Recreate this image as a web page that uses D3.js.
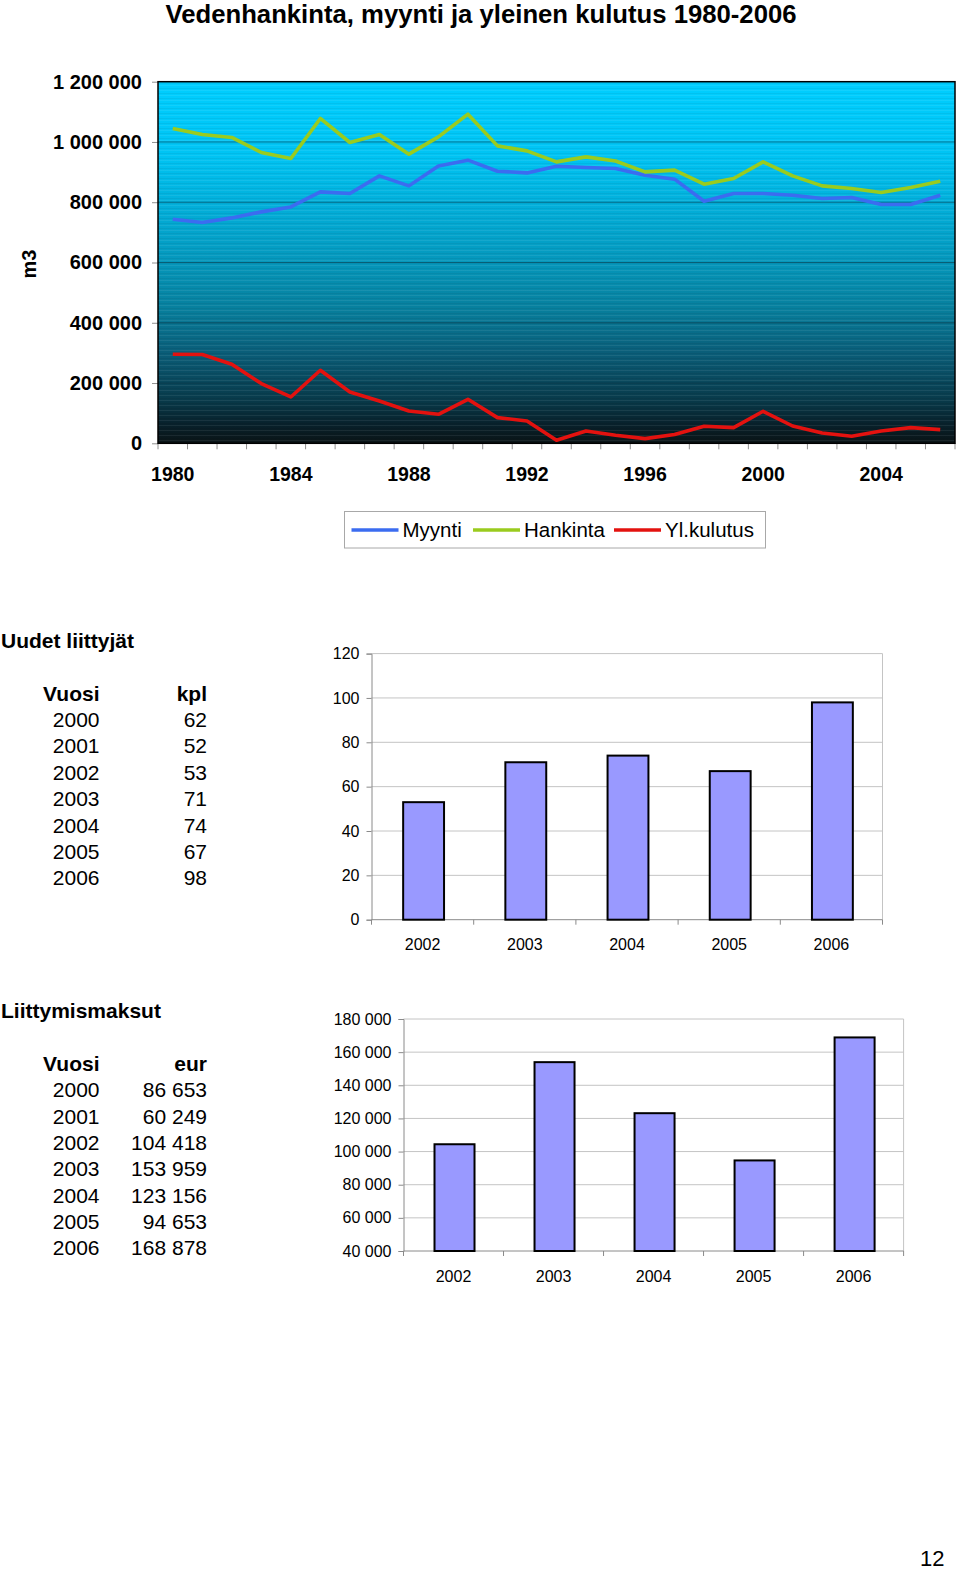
<!DOCTYPE html>
<html><head><meta charset="utf-8">
<script src="https://cdn.jsdelivr.net/npm/d3@7"></script>
<style>
body{margin:0;background:#fff}
text{font-family:"Liberation Sans",Arial,Helvetica,sans-serif}
</style>
</head><body>
<svg id="c" width="960" height="1574"></svg>
<script>
// ---------- DATA ----------
const years = [1980,1981,1982,1983,1984,1985,1986,1987,1988,1989,1990,1991,1992,1993,1994,1995,1996,1997,1998,1999,2000,2001,2002,2003,2004,2005,2006];
const myynti = [743700,732700,748000,768000,784500,834300,829000,887500,854300,920600,939600,903000,897400,919600,915300,912000,889800,876500,803400,829000,829000,823400,812400,815700,792500,792500,823400];
const hankinta = [1044800,1024900,1015000,965000,945200,1078000,998300,1024900,959500,1017000,1092300,987000,970500,934000,950500,937000,900700,906400,860000,878800,934000,887500,854300,845600,832300,849000,869800];
const ylkulutus = [295500,294500,262300,198200,153700,242400,170300,140400,107200,96300,146100,85300,74000,10000,40800,26600,15600,28900,56400,52100,106200,57400,34200,23200,40800,52100,45500];
const lineTicks = [0,200000,400000,600000,800000,1000000,1200000];
const lineXLabels = [1980,1984,1988,1992,1996,2000,2004];
const seriesNames = ["Myynti","Hankinta","Yl.kulutus"];
const seriesColors = ["#3b6cf0","#9acb1e","#e3120f"];

const tableYears = [2000,2001,2002,2003,2004,2005,2006];
const kpl = [62,52,53,71,74,67,98];
const eur = [86653,60249,104418,153959,123156,94653,168878];
const barYears = [2002,2003,2004,2005,2006];
const kplBars = [53,71,74,67,98];
const eurBars = [104418,153959,123156,94653,168878];
const kplTicks = [0,20,40,60,80,100,120];
const eurTicks = [40000,60000,80000,100000,120000,140000,160000,180000];

// ---------- HELPERS ----------
const svg = d3.select("#c");
const fmt = v => d3.format(",")(v).replace(/,/g, " ");
const defs = svg.append("defs");

// ---------- TITLE ----------
svg.append("text").attr("x", 481).attr("y", 23).attr("text-anchor","middle")
  .attr("font-size", 25.7).attr("font-weight","bold").text("Vedenhankinta, myynti ja yleinen kulutus 1980-2006");

// ---------- LINE CHART ----------
const L = {left:158, right:955, top:81.7, bottom:443.3};
const x = d3.scaleBand().domain(years).range([L.left, L.right]);
const y = d3.scaleLinear().domain([0,1200000]).range([L.bottom, L.top]);

const grad = defs.append("linearGradient").attr("id","bg").attr("x1",0).attr("y1",0).attr("x2",0).attr("y2",1);
[[0,"#00ceff"],[0.2,"#00c4f4"],[0.45,"#049fc6"],[0.62,"#07819f"],[0.75,"#0a5d78"],[0.88,"#083a4a"],[0.95,"#08202a"],[1,"#0a1416"]]
  .forEach(s => grad.append("stop").attr("offset", s[0]).attr("stop-color", s[1]));
const pat = defs.append("pattern").attr("id","stripes").attr("patternUnits","userSpaceOnUse")
  .attr("width", 10).attr("height", 5);
pat.append("rect").attr("x",0).attr("y",0).attr("width",10).attr("height",1).attr("fill","#ffffff").attr("opacity",0.07);
pat.append("rect").attr("x",0).attr("y",3).attr("width",10).attr("height",1).attr("fill","#000000").attr("opacity",0.05);

svg.append("rect").attr("x",L.left).attr("y",L.top).attr("width",L.right-L.left).attr("height",L.bottom-L.top).attr("fill","url(#bg)");
svg.append("rect").attr("x",L.left).attr("y",L.top).attr("width",L.right-L.left).attr("height",L.bottom-L.top).attr("fill","url(#stripes)");

// gridlines
svg.append("g").selectAll("line").data(lineTicks.filter(t => t>0 && t<1200000)).join("line")
  .attr("x1",L.left).attr("x2",L.right).attr("y1",d=>y(d)).attr("y2",d=>y(d))
  .attr("stroke","#0a3848").attr("stroke-opacity",0.6).attr("stroke-width",1);

// y axis
const ya = svg.append("g").attr("transform",`translate(${L.left},0)`)
  .call(d3.axisLeft(y).tickValues(lineTicks).tickFormat(fmt).tickSize(6).tickPadding(10));
ya.select(".domain").remove();
ya.selectAll(".tick line").attr("stroke","#909090");
ya.selectAll("text").attr("font-size",20).attr("font-weight","bold").attr("fill","#000")
  .attr("font-family",'"Liberation Sans",Arial,sans-serif');

// x axis ticks at band boundaries
const bounds = years.map(d => x(d)).concat([L.right]);
svg.append("g").selectAll("line").data(bounds).join("line")
  .attr("x1",d=>d).attr("x2",d=>d).attr("y1",L.bottom).attr("y2",L.bottom+6).attr("stroke","#909090");
const xa = svg.append("g").attr("transform",`translate(0,${L.bottom})`)
  .call(d3.axisBottom(x).tickValues(lineXLabels).tickSize(0).tickPadding(23.5));
xa.select(".domain").remove();
xa.selectAll("text").attr("font-size",19.5).attr("font-weight","bold").attr("fill","#000")
  .attr("font-family",'"Liberation Sans",Arial,sans-serif');

// border
svg.append("rect").attr("x",L.left).attr("y",L.top).attr("width",L.right-L.left).attr("height",L.bottom-L.top)
  .attr("fill","none").attr("stroke","#000").attr("stroke-width",1.5);

// lines
const lineGen = d3.line().x((d,i)=>x(years[i])+x.bandwidth()/2).y(d=>y(d));
[myynti, hankinta, ylkulutus].forEach((s,k) => {
  svg.append("path").datum(s).attr("d", lineGen).attr("fill","none")
    .attr("stroke", seriesColors[k]).attr("stroke-width",3.6).attr("stroke-linejoin","round");
});

// y label
svg.append("text").attr("transform","translate(36,264) rotate(-90)").attr("text-anchor","middle")
  .attr("font-size",20).attr("font-weight","bold").text("m3");

// legend
const lg = svg.append("g");
lg.append("rect").attr("x",344.5).attr("y",511.5).attr("width",421).attr("height",36.5)
  .attr("fill","#fff").attr("stroke","#a8a8a8").attr("stroke-width",1);
const legX = [351.5, 473, 614];
seriesNames.forEach((n,k) => {
  lg.append("line").attr("x1",legX[k]).attr("x2",legX[k]+47).attr("y1",530).attr("y2",530)
    .attr("stroke",seriesColors[k]).attr("stroke-width",3.6);
  lg.append("text").attr("x",legX[k]+51).attr("y",537).attr("font-size",20.5).text(n);
});

// ---------- TABLES ----------
function table(title, titleY, headY, firstRowY, unit, vals) {
  const g = svg.append("g");
  const fs = 21;
  g.append("text").attr("x",1).attr("y",titleY+7.5).attr("font-size",fs).attr("font-weight","bold").text(title);
  g.append("text").attr("x",99.5).attr("y",headY+7.5).attr("text-anchor","end").attr("font-size",fs).attr("font-weight","bold").text("Vuosi");
  g.append("text").attr("x",207).attr("y",headY+7.5).attr("text-anchor","end").attr("font-size",fs).attr("font-weight","bold").text(unit);
  tableYears.forEach((yr,i) => {
    const yy = firstRowY + i*26.35 + 7.5;
    g.append("text").attr("x",99.5).attr("y",yy).attr("text-anchor","end").attr("font-size",fs).text(yr);
    g.append("text").attr("x",207).attr("y",yy).attr("text-anchor","end").attr("font-size",fs).text(fmt(vals[i]));
  });
}
table("Uudet liittyjät", 640.5, 693.5, 719.6, "kpl", kpl);
table("Liittymismaksut", 1010.8, 1063.5, 1089.7, "eur", eur);

// ---------- BAR CHARTS ----------
function barChart(o) {
  const bx = d3.scaleBand().domain(barYears).range([o.left,o.right]);
  const by = d3.scaleLinear().domain(o.domain).range([o.bottom,o.top]);
  const g = svg.append("g");
  g.append("g").selectAll("line").data(o.ticks.filter(t=>t>o.domain[0])).join("line")
    .attr("x1",o.left).attr("x2",o.right).attr("y1",d=>by(d)).attr("y2",d=>by(d))
    .attr("stroke","#c4c4c4").attr("stroke-width",1);
  g.append("line").attr("x1",o.right).attr("x2",o.right).attr("y1",o.top).attr("y2",o.bottom)
    .attr("stroke","#c4c4c4");
  const ay = g.append("g").attr("transform",`translate(${o.left},0)`)
    .call(d3.axisLeft(by).tickValues(o.ticks).tickFormat(fmt).tickSize(5).tickPadding(7));
  ay.select(".domain").attr("stroke","#8a8a8a");
  ay.selectAll(".tick line").attr("stroke","#8a8a8a");
  ay.selectAll("text").attr("font-size",16).attr("fill","#000").attr("font-family",'"Liberation Sans",Arial,sans-serif');
  g.append("line").attr("x1",o.left).attr("x2",o.right).attr("y1",o.bottom).attr("y2",o.bottom).attr("stroke","#8a8a8a");
  g.append("g").selectAll("line").data(barYears.map(d=>bx(d)).concat([o.right])).join("line")
    .attr("x1",d=>d).attr("x2",d=>d).attr("y1",o.bottom).attr("y2",o.bottom+5).attr("stroke","#8a8a8a");
  const ax = g.append("g").attr("transform",`translate(0,${o.bottom})`)
    .call(d3.axisBottom(bx).tickSize(0).tickPadding(19.3));
  ax.select(".domain").remove();
  ax.selectAll("text").attr("font-size",16).attr("fill","#000").attr("font-family",'"Liberation Sans",Arial,sans-serif');
  const bw = bx.bandwidth()*0.4;
  g.append("g").selectAll("rect").data(o.values).join("rect")
    .attr("x",(d,i)=>bx(barYears[i])+bx.bandwidth()/2-bw/2+1)
    .attr("width",bw).attr("y",d=>by(d)).attr("height",d=>o.bottom-by(d))
    .attr("fill","#9999ff").attr("stroke","#000").attr("stroke-width",2);
}
barChart({left:371.5,right:882.5,top:653.6,bottom:919.7,domain:[0,120],ticks:kplTicks,values:kplBars});
barChart({left:403.5,right:903.6,top:1019,bottom:1251,domain:[40000,180000],ticks:eurTicks,values:eurBars});

// page number
svg.append("text").attr("x",920).attr("y",1566).attr("font-size",22)
  .attr("font-family",'"Liberation Serif","Times New Roman",serif').text("12");
</script>
</body></html>
